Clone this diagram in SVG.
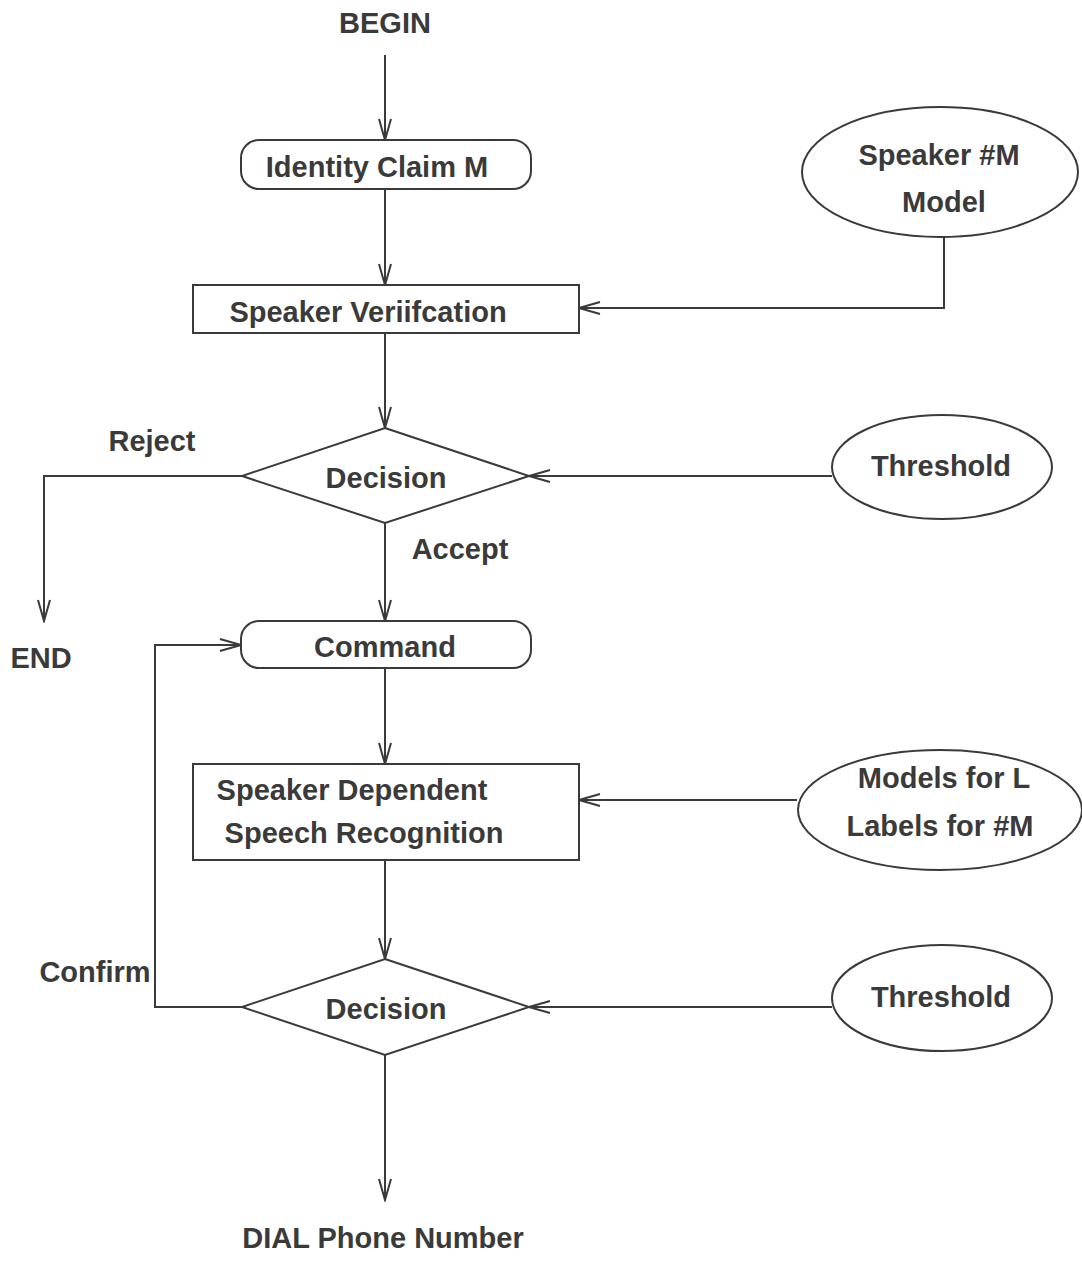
<svg xmlns="http://www.w3.org/2000/svg" width="1082" height="1263" viewBox="0 0 1082 1263">
<defs>
<style>
.s{fill:none;stroke:#3a3a3a;stroke-width:2}
.n{fill:#fff;stroke:#3a3a3a;stroke-width:2}
text{font-family:"Liberation Sans",Arial,sans-serif;font-weight:bold;font-size:29px;fill:#3a3a3a;text-anchor:middle}
</style>
<marker id="a" markerUnits="userSpaceOnUse" markerWidth="24" markerHeight="14" refX="22" refY="7" orient="auto">
<path d="M1,1 L22,7 L1,13" fill="none" stroke="#3a3a3a" stroke-width="2"/>
</marker>
</defs>
<rect width="1082" height="1263" fill="#fff"/>
<g id="connectors">
<line class="s" x1="385" y1="55" x2="385" y2="140" marker-end="url(#a)"/>
<line class="s" x1="385" y1="189" x2="385" y2="285" marker-end="url(#a)"/>
<polyline class="s" points="944,237 944,308 579,308" marker-end="url(#a)"/>
<line class="s" x1="385" y1="333" x2="385" y2="428" marker-end="url(#a)"/>
<line class="s" x1="832" y1="476" x2="529" y2="476" marker-end="url(#a)"/>
<polyline class="s" points="242,476 44,476 44,621" marker-end="url(#a)"/>
<line class="s" x1="385" y1="523" x2="385" y2="621" marker-end="url(#a)"/>
<line class="s" x1="385" y1="668" x2="385" y2="764" marker-end="url(#a)"/>
<line class="s" x1="797" y1="800" x2="579" y2="800" marker-end="url(#a)"/>
<line class="s" x1="385" y1="860" x2="385" y2="959" marker-end="url(#a)"/>
<line class="s" x1="832" y1="1007" x2="529" y2="1007" marker-end="url(#a)"/>
<polyline class="s" points="242,1007 155,1007 155,645 241,645" marker-end="url(#a)"/>
<line class="s" x1="385" y1="1055" x2="385" y2="1200" marker-end="url(#a)"/>
</g>
<g id="begin"><text x="385" y="33">BEGIN</text></g>
<g id="identity"><rect class="n" x="241" y="140" width="290" height="49" rx="18"/><text x="377" y="177">Identity Claim M</text></g>
<g id="speakerModel"><ellipse class="n" cx="940" cy="172" rx="138" ry="65"/><text x="939" y="165">Speaker #M</text><text x="944" y="212">Model</text></g>
<g id="verification"><rect class="n" x="193" y="285" width="386" height="48"/><text x="368" y="322">Speaker Veriifcation</text></g>
<g id="decision1"><polygon class="n" points="385,428 529,476 385,523 242,476"/><text x="386" y="488">Decision</text></g>
<g id="threshold1"><ellipse class="n" cx="942" cy="467" rx="110" ry="52"/><text x="941" y="476">Threshold</text></g>
<g id="reject"><text x="152" y="451">Reject</text></g>
<g id="accept"><text x="460" y="559">Accept</text></g>
<g id="end"><text x="41" y="668">END</text></g>
<g id="command"><rect class="n" x="241" y="621" width="290" height="47" rx="18"/><text x="385" y="657">Command</text></g>
<g id="recognition"><rect class="n" x="193" y="764" width="386" height="96"/><text x="352" y="800">Speaker Dependent</text><text x="364" y="843">Speech Recognition</text></g>
<g id="models"><ellipse class="n" cx="940" cy="810" rx="142" ry="60"/><text x="944" y="788">Models for L</text><text x="940" y="836">Labels for #M</text></g>
<g id="decision2"><polygon class="n" points="385,959 529,1007 385,1055 242,1007"/><text x="386" y="1019">Decision</text></g>
<g id="threshold2"><ellipse class="n" cx="942" cy="998" rx="110" ry="53"/><text x="941" y="1007">Threshold</text></g>
<g id="confirm"><text x="95" y="982">Confirm</text></g>
<g id="dial"><text x="383" y="1248">DIAL Phone Number</text></g>
</svg>
